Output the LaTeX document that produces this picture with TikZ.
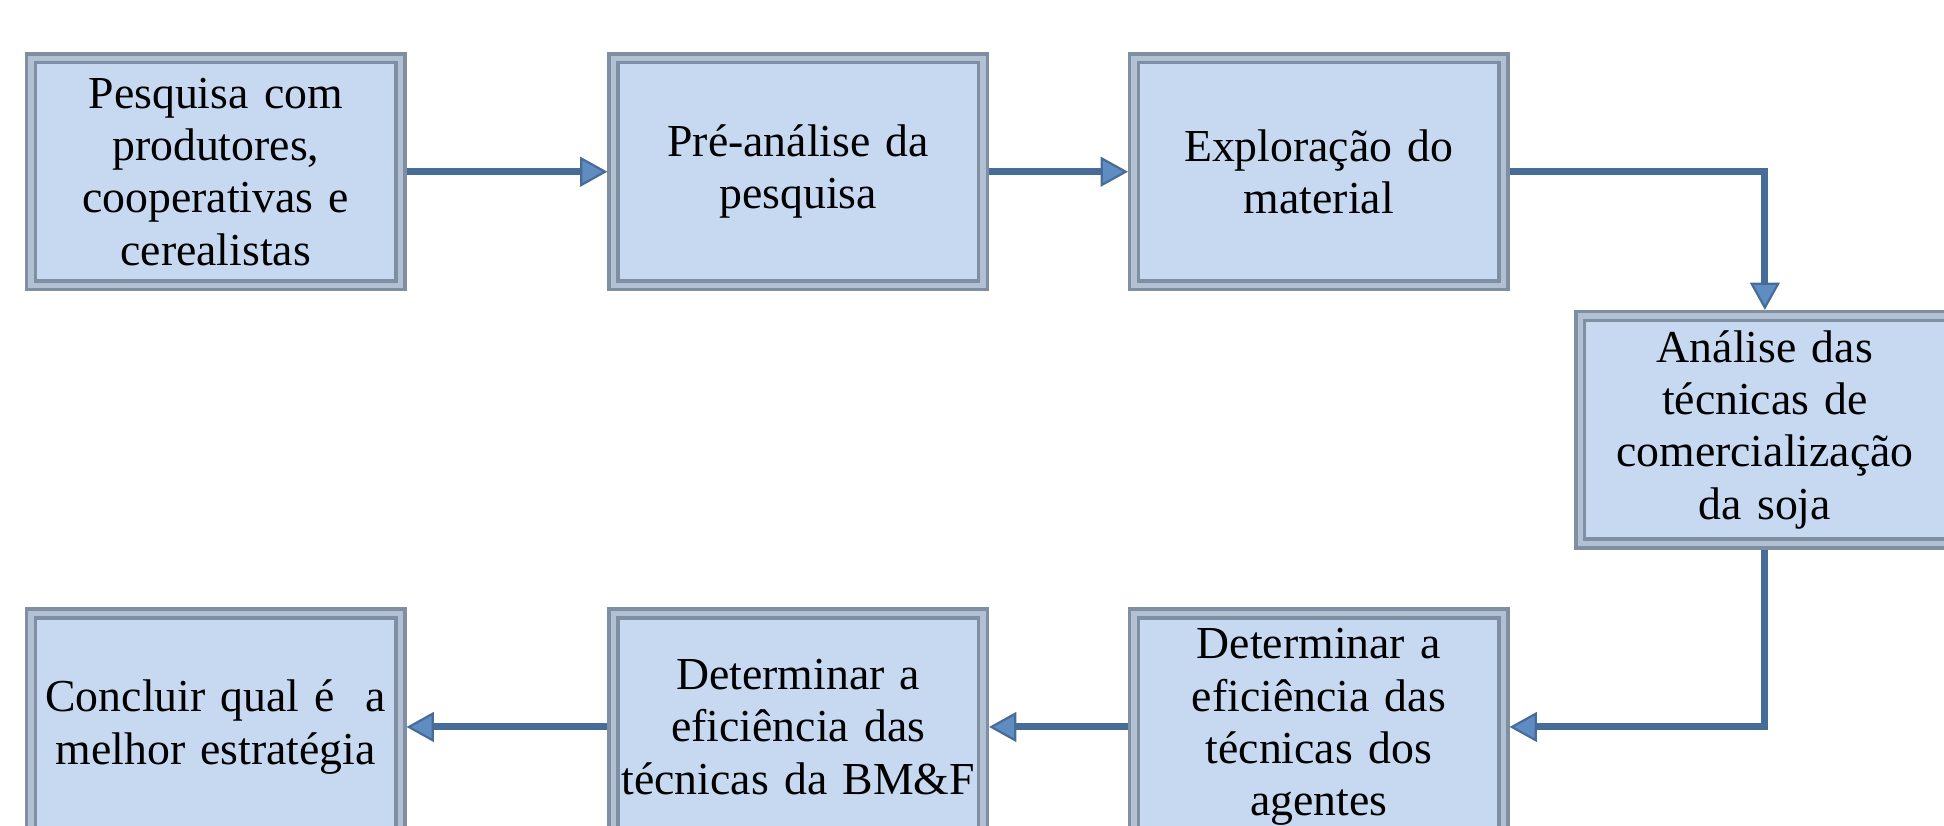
\documentclass[tikz,border=0pt]{standalone}
\usepackage{fontspec}
\setmainfont{Liberation Serif}
\usetikzlibrary{positioning,arrows.meta}
\usepackage{xcolor}
\definecolor{FlowFill}{RGB}{198,217,241}
\definecolor{FlowEdge}{RGB}{128,142,162}
\definecolor{FlowBevel}{RGB}{178,192,212}
\definecolor{FlowArrow}{RGB}{72,108,152}
\definecolor{FlowTip}{RGB}{95,140,195}

\begin{document}
\begin{tikzpicture}[
node distance=1.62cm,
box/.style={
  rectangle,
  draw=FlowEdge,
  line width=0.8pt,
  double=FlowBevel,
  double distance=1.2pt,
  fill=FlowFill,
  outer sep=1.4pt,
  inner xsep=0pt,
  minimum width=2.98cm,
  minimum height=1.83cm,
  text width=2.98cm,
  align=center,
  font=\fontsize{10.5}{12}\selectfont
},
arrow/.style={-{Triangle[length=2.2mm,width=2.4mm,fill=FlowTip,line width=0.5pt]},line width=1.6pt,draw=FlowArrow}
]
\useasboundingbox (0,0) rectangle (15.68,-6.66);
\clip (0,0) rectangle (15.68,-6.66);
\node[box] (a) at (1.74,-1.385) {Pesquisa com\\produtores,\\cooperativas e\\cerealistas\\[-0.5ex]};
\node[box,right=of a] (b) {Pré-análise da\\pesquisa};
\node[box,right=1.12cm of b] (c) {Exploração do\\material};
\node[box,below right=0.15cm and 0.52cm of c] (d) {Análise das\\técnicas de\\comercialização\\da soja};
\node[box,below=2.55cm of c] (e) {Determinar a\\eficiência das\\técnicas dos\\agentes};
\node[box,left=1.12cm of e] (f) {Determinar a\\eficiência das\\técnicas da BM\&F};
\node[box,left=of f] (g) {Concluir qual é~~a\\melhor estratégia};
\draw[arrow] (a)--(b);
\draw[arrow] (b)--(c);
\draw[arrow] (c.east) -| (d.north);
\draw[arrow] (d.south) |- (e.east);
\draw[arrow] (e)--(f);
\draw[arrow] (f)--(g);
\end{tikzpicture}
\end{document}
